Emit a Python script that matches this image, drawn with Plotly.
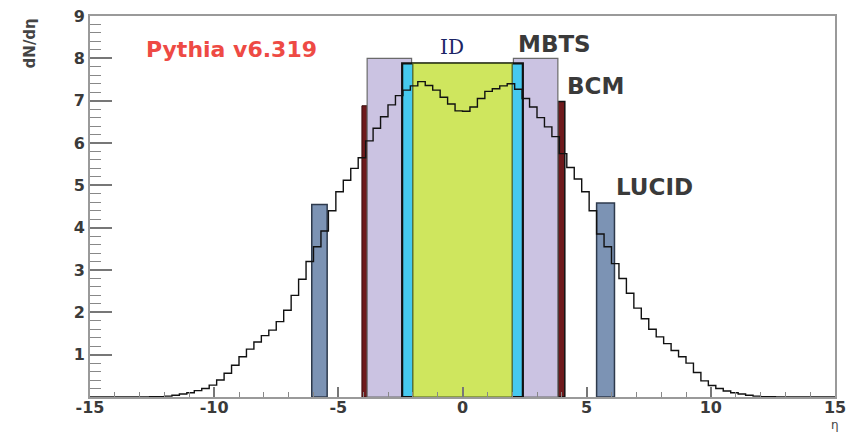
import numpy as np
import plotly.graph_objects as go

# ---- data ----
eta_min, eta_max, n_bins = -15.0, 15.0, 100
dndeta = [
    0, 0, 0, 0, 0, 0, 0, 0,
    0.005, 0.01, 0.02, 0.04, 0.07, 0.10, 0.15, 0.20, 0.28, 0.40,
    0.56, 0.75, 0.95, 1.13, 1.30, 1.45, 1.58, 1.78, 2.05, 2.40,
    2.78, 3.20, 3.55, 3.92, 4.40, 4.85, 5.12, 5.40, 5.65, 6.05,
    6.35, 6.62, 6.90, 7.12, 7.25, 7.35, 7.45, 7.36, 7.25, 7.08,
    6.92, 6.76, 6.75, 6.85, 7.05, 7.22, 7.28, 7.35, 7.40, 7.27,
    7.05, 6.85, 6.60, 6.38, 6.15, 5.75, 5.42, 5.15, 4.85, 4.40,
    3.85, 3.55, 3.15, 2.80, 2.45, 2.10, 1.85, 1.60, 1.42, 1.26,
    1.10, 0.95, 0.80, 0.58, 0.38, 0.27, 0.20, 0.14, 0.10, 0.07,
    0.04, 0.02, 0.01, 0.005,
    0, 0, 0, 0, 0, 0, 0, 0,
]

det_names = ["LUCID", "LUCID", "BCM", "BCM", "MBTS", "MBTS", "ID outer", "ID inner"]
det_lo = [-6.07, 5.40, -4.05, 3.84, -3.84, 2.05, -2.43, -2.00]
det_hi = [-5.45, 6.12, -3.84, 4.12, -2.05, 3.84, 2.43, 2.00]
det_top = [4.55, 4.58, 6.88, 6.98, 8.0, 8.0, 7.88, 7.88]
det_fill = ["#7c93b4", "#7c93b4", "#6e1a1c", "#6e1a1c", "#cbc3e2", "#cbc3e2", "#46c9ef", "#cfe65e"]
det_line = ["#2e3a4c", "#2e3a4c", "#3a0c0c", "#111111", "#6a6a6a", "#6a6a6a", "#111111", "#4a5a20"]
det_lw = [1.5, 1.5, 1, 1.5, 1.2, 1.2, 2.2, 1.2]

labels = ["Pythia v6.319", "ID", "MBTS", "BCM", "LUCID"]
label_x = [-9.32, -0.42, 3.69, 5.34, 7.75]
label_y = [8.2, 8.27, 8.35, 7.35, 4.96]

x_ticks = [-15, -10, -5, 0, 5, 10, 15]
y_ticks = [1, 2, 3, 4, 5, 6, 7, 8, 9]

# ---- figure ----
edges = np.linspace(eta_min, eta_max, n_bins + 1)
xs = list(edges)
ys = list(dndeta) + [dndeta[-1]]

fig = go.Figure()
fig.add_trace(go.Scatter(x=xs, y=ys, mode="lines", line=dict(color="#111111", width=1.4, shape="hv"),
                         hoverinfo="skip", showlegend=False))

for lo, hi, top, fc, lc, lw in zip(det_lo, det_hi, det_top, det_fill, det_line, det_lw):
    fig.add_shape(type="rect", xref="x", yref="y", x0=lo, x1=hi, y0=0, y1=top,
                  fillcolor=fc, line=dict(color=lc, width=lw), layer="below")

label_styles = [
    dict(family="DejaVu Sans", size=22, color="#ee4a44", weight="bold"),
    dict(family="DejaVu Serif", size=20, color="#1b2466"),
    dict(family="DejaVu Sans", size=23, color="#3a3a3a", weight="bold"),
    dict(family="DejaVu Sans", size=23, color="#3a3a3a", weight="bold"),
    dict(family="DejaVu Sans", size=23, color="#3a3a3a", weight="bold"),
]
for t, x, y, st in zip(labels, label_x, label_y, label_styles):
    fig.add_annotation(x=x, y=y, xref="x", yref="y", text=t, showarrow=False, font=st,
                       xanchor="center", yanchor="middle")

fig.add_annotation(x=-0.08, y=1.0, xref="paper", yref="paper", text="dN/dη", textangle=-90,
                   showarrow=False, xanchor="center", yanchor="top",
                   font=dict(family="DejaVu Sans", size=15, color="#444444", weight="bold"))
fig.add_annotation(x=1.0, y=-0.0945, xref="paper", yref="paper", text="η", showarrow=False,
                   xanchor="center", yanchor="bottom", borderpad=0,
                   font=dict(family="DejaVu Sans", size=12, color="#444444"))

tickfont = dict(family="DejaVu Sans", size=16, color="#3a3a3a", weight="bold")
fig.update_xaxes(range=[eta_min, eta_max], tickmode="array", tickvals=x_ticks,
                 ticktext=[str(v) for v in x_ticks], ticks="inside", ticklen=10, tickwidth=1.5,
                 tickcolor="#777777", showline=True, linecolor="#9a9a9a", linewidth=2, mirror=True,
                 showgrid=False, zeroline=False, tickfont=tickfont, automargin=False,
                 ticklabelstandoff=-5,
                 minor=dict(dtick=1, ticks="inside", ticklen=5, tickcolor="#888888", tickwidth=1.2,
                            showgrid=False))
fig.update_yaxes(range=[0, 9], tickmode="array", tickvals=y_ticks,
                 ticktext=[str(v) for v in y_ticks], ticks="inside", ticklen=22, tickwidth=1.5,
                 tickcolor="#777777", showline=True, linecolor="#9a9a9a", linewidth=2, mirror=True,
                 showgrid=False, zeroline=False, tickfont=tickfont, automargin=False,
                 minor=dict(dtick=0.2, tick0=0, ticks="inside", ticklen=11, tickcolor="#888888",
                            tickwidth=1.2, showgrid=False))
fig.update_layout(width=849, height=433, margin=dict(l=90, r=14, t=16, b=36),
                  plot_bgcolor="white", paper_bgcolor="white", showlegend=False)

fig.write_html("out.html", config={"displayModeBar": False},
               post_script="document.body.style.margin='0px';document.body.style.overflow='hidden';")
